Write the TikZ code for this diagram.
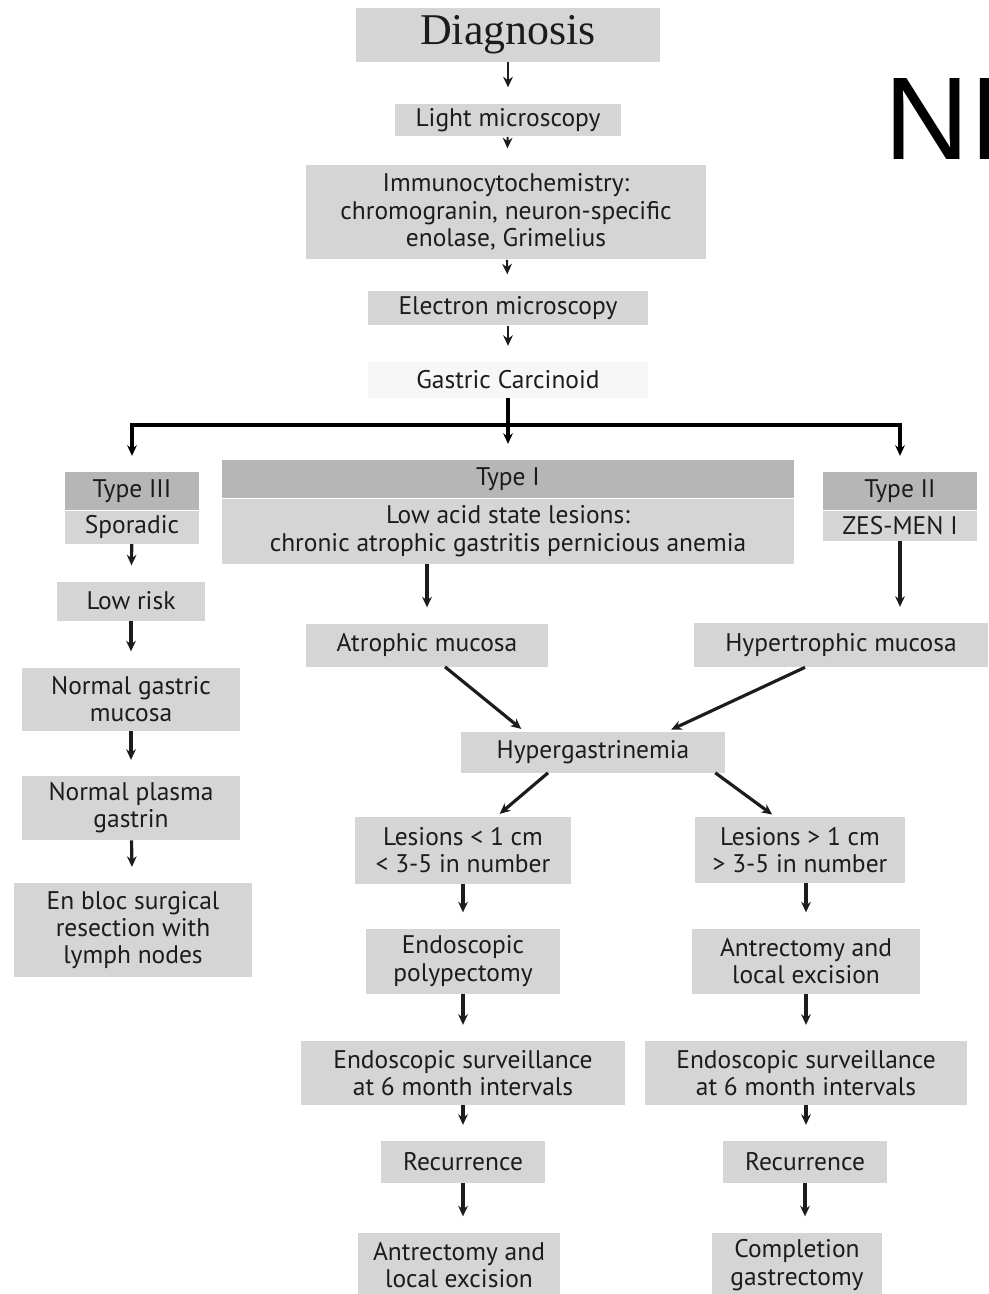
\documentclass[tikz,border=0pt]{standalone}
\usepackage{fontspec}
\setmainfont{PT Sans}
\newfontfamily\serifhead{Liberation Serif}
\newfontfamily\bigsans{Liberation Sans}
\usetikzlibrary{arrows.meta}
\definecolor{boxgray}{HTML}{D5D5D5}
\definecolor{headgray}{HTML}{B6B6B6}
\definecolor{inkgray}{HTML}{1C1C1C}

\begin{document}
\begin{tikzpicture}
[x=0.02cm,y=-0.02cm,
box/.style={rectangle,fill=boxgray,draw=none,text=inkgray,inner sep=1pt,align=center,
  font=\fontsize{14.5}{15.5}\selectfont},
head/.style={box,fill=headgray},
arr/.style={draw=inkgray,line width=1.8pt,-{Stealth[length=6pt,width=5.5pt]},shorten >=9pt},
thin arr/.style={arr,line width=1.2pt}]
\useasboundingbox (0,0) rectangle (989,1294);

% top column
\node[box,minimum width=6.08cm,minimum height=1.08cm,font=\serifhead\fontsize{25}{27}\selectfont] (diag) at (508,35) {Diagnosis};
\node[box,minimum width=4.54cm,minimum height=0.66cm] (light) at (508,120) {Light microscopy};
\node[box,minimum width=8cm,minimum height=1.9cm] (immuno) at (506,212) {Immunocytochemistry:\\chromogranin, neuron-specific\\enolase, Grimelius};
\node[box,minimum width=5.6cm,minimum height=0.7cm] (electron) at (508,308) {Electron microscopy};
\node[box,fill=gray!6,minimum width=5.6cm,minimum height=0.72cm] (gastric) at (508,380) {Gastric Carcinoid};

\node[text=black,inner sep=0pt,anchor=base west,font=\bigsans\fontsize{67}{67}\selectfont] (ni) at (884,160) {NI};

\draw[thin arr] (diag) -- (light);
\draw[thin arr] (light) -- (immuno);
\draw[thin arr] (immuno) -- (electron);
\draw[thin arr] (electron) -- (gastric);

% three types
\node[head,minimum width=2.7cm,minimum height=0.76cm] (t3h) at (132,491) {Type III};
\node[box,minimum width=2.7cm,minimum height=0.66cm,anchor=north] (t3b) at (t3h.south) {Sporadic};
\node[head,minimum width=11.44cm,minimum height=0.76cm] (t1h) at (508,479) {Type I};
\node[box,minimum width=11.44cm,minimum height=1.3cm,anchor=north] (t1b) at (t1h.south) {Low acid state lesions:\\chronic atrophic gastritis pernicious anemia};
\node[head,minimum width=3.08cm,minimum height=0.76cm] (t2h) at (900,491) {Type II};
\node[box,minimum width=3.08cm,minimum height=0.6cm,anchor=north] (t2b) at (t2h.south) {ZES-MEN I};

\coordinate (fork) at (508,425);
\draw[line width=1.8pt,draw=black] (gastric.south) -- (fork);
\draw[arr,draw=black] (fork) -- (t1h);
\draw[arr,draw=black] (fork) -| (t3h);
\draw[arr,draw=black] (fork) -| (t2h);

% type III column
\node[box,minimum width=2.98cm,minimum height=0.78cm] (lowrisk) at (131,601) {Low risk};
\node[box,minimum width=4.38cm,minimum height=1.26cm] (normuc) at (131,699) {Normal gastric\\mucosa};
\node[box,minimum width=4.38cm,minimum height=1.28cm] (plasma) at (131,808) {Normal plasma\\gastrin};
\node[box,minimum width=4.76cm,minimum height=1.88cm] (enbloc) at (133,930) {En bloc surgical\\resection with\\lymph nodes};

\draw[arr] (t3b) -- (lowrisk);
\draw[arr] (lowrisk) -- (normuc);
\draw[arr] (normuc) -- (plasma);
\draw[arr] (plasma) -- (enbloc);

% mucosa and gastrin
\node[box,minimum width=4.84cm,minimum height=0.86cm] (atroph) at (427,645) {Atrophic mucosa};
\node[box,minimum width=5.9cm,minimum height=0.88cm] (hyper) at (841,645) {Hypertrophic mucosa};
\node[box,minimum width=5.28cm,minimum height=0.82cm] (hypgas) at (593,752) {Hypergastrinemia};

\draw[arr] (atroph.north |- t1b.south) -- (atroph);
\draw[arr] (t2b.south) -- (t2b.south |- hyper.north);
\draw[arr,shorten >=2pt] ([xshift=0.36cm]atroph.south) -- ([xshift=-1.38cm]hypgas.north);
\draw[arr,shorten >=2pt] ([xshift=-0.72cm]hyper.south) -- ([xshift=1.5cm]hypgas.north);

% two lesion columns
\node[box,minimum width=4.34cm,minimum height=1.34cm] (lesl) at (463,850) {Lesions < 1 cm\\< 3-5 in number};
\node[box,minimum width=4.2cm,minimum height=1.32cm] (lesr) at (800,850) {Lesions > 1 cm\\> 3-5 in number};
\node[box,minimum width=3.9cm,minimum height=1.3cm] (polyp) at (463,961) {Endoscopic\\polypectomy};
\node[box,minimum width=4.56cm,minimum height=1.3cm] (antr) at (806,961) {Antrectomy and\\local excision};
\node[box,minimum width=6.5cm,minimum height=1.28cm] (survl) at (463,1073) {Endoscopic surveillance\\at 6 month intervals};
\node[box,minimum width=6.46cm,minimum height=1.28cm] (survr) at (806,1073) {Endoscopic surveillance\\at 6 month intervals};
\node[box,minimum width=3.3cm,minimum height=0.84cm] (recl) at (463,1162) {Recurrence};
\node[box,minimum width=3.3cm,minimum height=0.84cm] (recr) at (805,1162) {Recurrence};
\node[box,minimum width=4.06cm,minimum height=1.3cm] (antrl) at (459,1265) {Antrectomy and\\local excision};
\node[box,minimum width=3.4cm,minimum height=1.3cm] (compl) at (797,1265) {Completion\\gastrectomy};

\draw[arr,shorten >=2pt] ([xshift=-0.9cm]hypgas.south) -- ([xshift=0.68cm]lesl.north);
\draw[arr,shorten >=2pt] ([xshift=-0.2cm]hypgas.south east) -- ([xshift=-0.5cm]lesr.north);
\draw[arr] (lesl) -- (polyp);
\draw[arr] (polyp) -- (survl);
\draw[arr] (survl) -- (recl);
\draw[arr] (recl) -- (recl |- antrl.north);
\draw[arr] (lesr.south -| antr) -- (antr);
\draw[arr] (antr) -- (survr);
\draw[arr] (survr) -- (survr |- recr.north);
\draw[arr] (recr.south) -- (recr.south |- compl.north);

\end{tikzpicture}
\end{document}
